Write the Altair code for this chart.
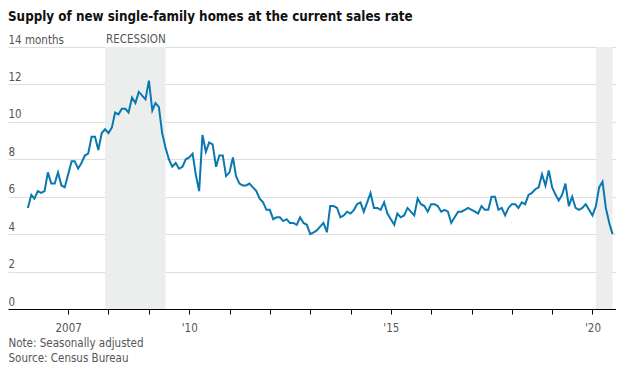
import altair as alt
import pandas as pd

# Months' supply of new single-family homes, monthly, Jan 2006 - Jul 2020
supply_2006 = [5.4, 6.1, 5.9, 6.3, 6.2, 6.3, 7.3, 6.7, 6.7, 7.3, 6.6, 6.5]
supply_2007 = [7.2, 7.9, 7.9, 7.5, 7.8, 8.2, 8.3, 9.2, 9.2, 8.5, 9.4, 9.6]
supply_2008 = [9.4, 9.7, 10.5, 10.4, 10.7, 10.7, 10.5, 11.3, 11.0, 11.6, 11.4, 11.2]
supply_2009 = [12.2, 10.6, 11.0, 10.8, 9.4, 8.6, 8.0, 7.6, 7.8, 7.5, 7.6, 8.0]
supply_2010 = [8.1, 8.3, 7.2, 6.3, 9.3, 8.4, 8.9, 8.8, 7.6, 8.2, 8.2, 7.1]
supply_2011 = [7.3, 8.1, 7.1, 6.7, 6.6, 6.6, 6.7, 6.5, 6.3, 5.9, 5.7, 5.3]
supply_2012 = [5.3, 4.8, 4.9, 4.9, 4.7, 4.8, 4.6, 4.6, 4.5, 4.9, 4.6, 4.5]
supply_2013 = [4.0, 4.1, 4.2, 4.4, 4.6, 4.1, 5.5, 5.5, 5.4, 4.9, 5.0, 5.2]
supply_2014 = [5.1, 5.3, 5.6, 5.7, 5.2, 5.7, 6.2, 5.4, 5.4, 5.3, 5.7, 5.1]
supply_2015 = [4.8, 4.5, 5.1, 4.9, 5.0, 5.4, 5.2, 5.0, 5.9, 5.6, 5.5, 5.2]
supply_2016 = [5.6, 5.6, 5.5, 5.2, 5.3, 5.2, 4.6, 4.9, 5.2, 5.2, 5.3, 5.4]
supply_2017 = [5.3, 5.2, 5.1, 5.5, 5.3, 5.3, 6.0, 6.0, 5.3, 5.4, 5.0, 5.4]
supply_2018 = [5.6, 5.6, 5.4, 5.7, 5.6, 6.1, 6.2, 6.4, 6.5, 7.2, 6.6, 7.4]
supply_2019 = [6.5, 6.1, 5.8, 6.1, 6.7, 5.5, 6.0, 5.4, 5.3, 5.4, 5.6, 5.3]
supply_2020 = [5.0, 5.5, 6.5, 6.8, 5.4, 4.6, 4.0]

years = list(range(2006, 2021))
series = [supply_2006, supply_2007, supply_2008, supply_2009, supply_2010,
          supply_2011, supply_2012, supply_2013, supply_2014, supply_2015,
          supply_2016, supply_2017, supply_2018, supply_2019, supply_2020]

recession_start = ["2007/12/01", "2020/02/01"]
recession_end = ["2009/06/01", "2020/07/01"]
recession_label = ["RECESSION", ""]

tick_years = list(range(2007, 2021))
y_ticks = [0, 2, 4, 6, 8, 10, 12, 14]

title_text = "Supply of new single-family homes at the current sales rate"
notes = ["Note: Seasonally adjusted", "Source: Census Bureau"]

rows = []
for y, vals in zip(years, series):
    for i, v in enumerate(vals):
        rows.append({"date": f"{y}/{i + 1:02d}/01", "supply": v})
df = pd.DataFrame(rows)
rec = pd.DataFrame({"start": recession_start, "end": recession_end, "label": recession_label})

FONT = "Liberation Sans Narrow, DejaVu Sans Condensed, sans-serif"
GRAY = "#555555"
LABEL_SIZE = 11.5

x_scale = alt.Scale(domain=[alt.DateTime(year=2005, month=7, date=5),
                            alt.DateTime(year=2020, month=8, date=1)])
y_scale = alt.Scale(domain=[0, 14], nice=False)

x_axis = alt.Axis(
    values=[alt.DateTime(year=yy, month=1, date=1) for yy in tick_years],
    labelExpr="year(datum.value) == 2007 ? '2007' : (year(datum.value) % 5 == 0 ? \"'\" + timeFormat(datum.value, '%y') : '')",
    grid=False, domain=True, domainColor="#000000", domainWidth=1,
    ticks=True, tickColor="#000000", tickSize=5, tickWidth=1,
    labelFont=FONT, labelFontSize=LABEL_SIZE, labelColor=GRAY, labelPadding=8,
    labelFlush=False, labelOverlap=False, labelBound=False,
    title=notes, titleFont=FONT, titleFontSize=LABEL_SIZE, titleFontWeight="normal",
    titleColor=GRAY, titleAnchor="start", titleAlign="left", titleLineHeight=14.5,
    titlePadding=4, zindex=1,
)
y_axis = alt.Axis(
    values=y_ticks,
    labelExpr="datum.value == 14 ? '14 months' : datum.label",
    grid=True, gridColor="#dedede", gridWidth=1,
    domain=False, ticks=False, tickSize=0,
    labelFont=FONT, labelFontSize=LABEL_SIZE, labelColor=GRAY,
    labelAlign="left", labelBaseline="bottom", labelPadding=0, labelOffset=-2,
    labelOverlap=False, labelBound=False, labelFlush=False,
    title=None,
)

shade = alt.Chart(rec).mark_rect(color="#eceeed").encode(
    x=alt.X("start:T", scale=x_scale, axis=x_axis),
    x2="end:T",
)

rec_text = alt.Chart(rec).mark_text(
    align="left", baseline="bottom", dx=1, dy=-2,
    font=FONT, fontSize=LABEL_SIZE, color=GRAY,
).encode(
    x=alt.X("start:T", scale=x_scale, axis=x_axis),
    y=alt.YDatum(14, scale=y_scale, axis=y_axis),
    text="label:N",
)

line = alt.Chart(df).mark_line(color="#0a78b0", strokeWidth=2).encode(
    x=alt.X("date:T", scale=x_scale, axis=x_axis),
    y=alt.Y("supply:Q", scale=y_scale, axis=y_axis),
)

chart = alt.layer(shade, line, rec_text).properties(
    width=608,
    height=262,
    autosize=alt.AutoSizeParams(type="none"),
    padding={"left": 0, "top": 39, "right": 0, "bottom": 56},
    title=alt.TitleParams(text=title_text, anchor="start", font=FONT,
                          fontSize=13.3, fontWeight="bold", color="#111111",
                          offset=2, dy=-9),
).configure_view(stroke=None)

chart.save("out.html", embed_options={"renderer": "svg", "actions": False})
